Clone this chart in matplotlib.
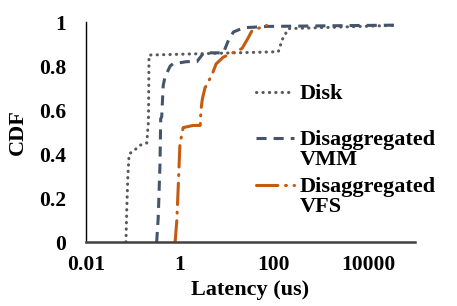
import matplotlib.pyplot as plt
from matplotlib.legend_handler import HandlerLine2D

# CDF curves (latency in us, cumulative fraction)
disk_x = [0.071, 0.074, 0.078, 0.083, 0.111, 0.142, 0.197, 0.214, 0.22, 124, 150, 203, 41000]
disk_y = [0.0, 0.15, 0.30, 0.40, 0.42, 0.44, 0.45, 0.55, 0.85, 0.865, 0.92, 0.97, 0.985]

vmm_x = [0.32, 0.345, 0.376, 0.39, 0.41, 0.44, 0.48, 0.62, 0.71, 1.4, 2.3, 3.2, 8.4, 10.9, 13.8, 22.7, 70, 41000]
vmm_y = [0.0, 0.11, 0.35, 0.56, 0.57, 0.71, 0.75, 0.80, 0.81, 0.82, 0.82, 0.86, 0.86, 0.92, 0.955, 0.974, 0.98, 0.986]

vfs_x = [0.79, 0.86, 0.92, 1.0, 1.17, 1.9, 2.7, 2.8, 3.0, 3.4, 4.8, 5.9, 8.3, 21, 27, 34, 59, 70]
vfs_y = [0.0, 0.10, 0.25, 0.445, 0.52, 0.53, 0.53, 0.60, 0.65, 0.70, 0.76, 0.81, 0.84, 0.88, 0.92, 0.96, 0.98, 0.985]

labels = ['Disk\n ', 'Disaggregated\nVMM', 'Disaggregated\nVFS']
colors = ['#595959', '#44546A', '#C55A11']

x_ticks = [0.01, 1, 100, 10000]
x_ticklabels = ['0.01', '1', '100', '10000']
y_ticks = [0, 0.2, 0.4, 0.6, 0.8, 1]
y_ticklabels = ['0', '0.2', '0.4', '0.6', '0.8', '1']


class FirstLineHandler(HandlerLine2D):
    # put the legend sample next to the first line of a two-line label
    def create_artists(self, legend, orig_handle, xdescent, ydescent,
                       width, height, fontsize, trans):
        return super().create_artists(legend, orig_handle, xdescent,
                                      ydescent - 1.05 * fontsize,
                                      width, height, fontsize, trans)


plt.rcParams['font.family'] = ['Liberation Serif', 'DejaVu Serif']
plt.rcParams['font.weight'] = 'bold'
plt.rcParams['font.size'] = 16

fig = plt.figure(figsize=(4.57, 3.06), dpi=100)
ax = fig.add_axes([0.188, 0.209, 0.72, 0.719])

lw = 2.2
l1, = ax.plot(disk_x, disk_y, color=colors[0], lw=lw, dashes=(0.1, 2.0),
              dash_capstyle='round', label=labels[0])
l2, = ax.plot(vmm_x, vmm_y, color=colors[1], lw=lw, dashes=(3.3, 2.3),
              label=labels[1])
l3, = ax.plot(vfs_x, vfs_y, color=colors[2], lw=lw, dashes=(7, 2.5, 0.3, 2.5),
              dash_capstyle='round', label=labels[2])

ax.set_xscale('log')
ax.set_xlim(0.01, 1e5)
ax.set_ylim(0, 1)
ax.set_xticks(x_ticks)
ax.set_xticklabels(x_ticklabels)
ax.minorticks_off()
ax.set_yticks(y_ticks)
ax.set_yticklabels(y_ticklabels)
ax.tick_params(axis='both', labelsize=15.5)
ax.tick_params(axis='x', length=0, pad=9)
ax.tick_params(axis='y', length=0, pad=14)

ax.spines['top'].set_visible(False)
ax.spines['right'].set_visible(False)
ax.spines['left'].set_color('black')
ax.spines['left'].set_linewidth(1.0)
ax.spines['bottom'].set_color('#404040')
ax.spines['bottom'].set_linewidth(1.8)

ax.set_xlabel('Latency (us)', fontweight='bold', labelpad=4)
ax.set_ylabel('CDF', fontweight='bold', labelpad=8)

leg = ax.legend(handles=[l1, l2, l3], loc='upper left',
                bbox_to_anchor=(0.517, 0.72), frameon=False,
                borderpad=0, borderaxespad=0, handlelength=1.7,
                handletextpad=0.25, labelspacing=0.3,
                handler_map={l1: FirstLineHandler(), l2: FirstLineHandler(),
                             l3: FirstLineHandler()})
for t in leg.get_texts():
    t.set_linespacing(1.0)

fig.savefig('out.png', dpi=100)
